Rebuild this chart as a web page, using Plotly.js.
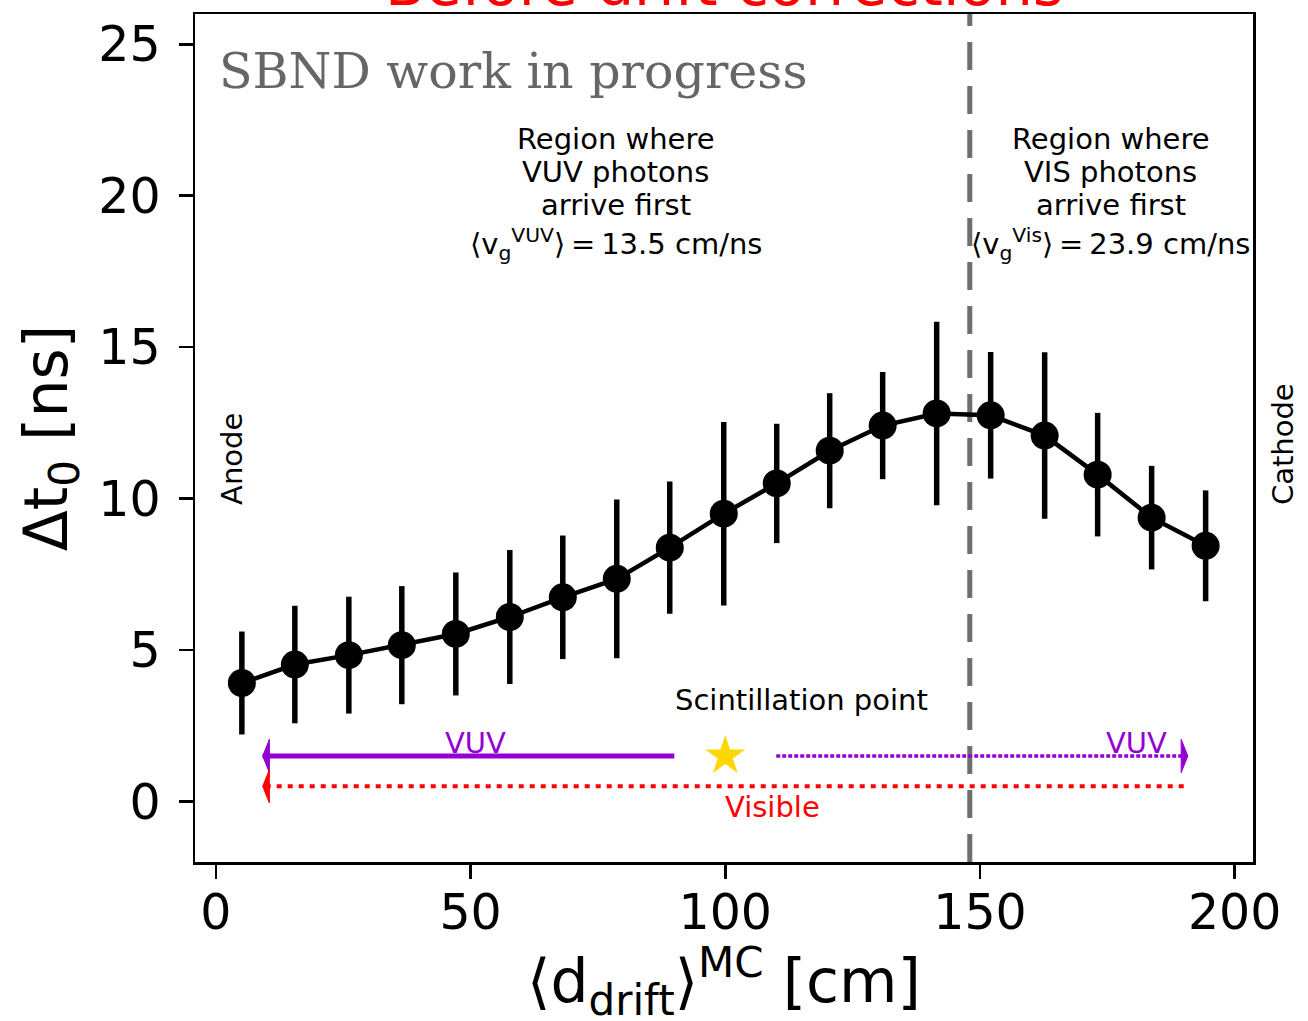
<!DOCTYPE html>
<html>
<head>
<meta charset="utf-8">
<script src="https://cdn.plot.ly/plotly-3.0.1.min.js"></script>
<style>
  html, body { margin: 0; padding: 0; background: #ffffff; }
  #chart { width: 1308px; height: 1021px; }
</style>
</head>
<body>
<div id="chart"></div>
<script>
// ---- data ----
const driftX = [5.1, 15.5, 26.1, 36.5, 47.1, 57.7, 68.1, 78.7, 89.1, 99.7, 110.1, 120.5, 130.9, 141.5, 152.1, 162.7, 173.1, 183.7, 194.3];
const deltaT0 = [3.91, 4.52, 4.83, 5.16, 5.53, 6.09, 6.74, 7.35, 8.38, 9.50, 10.50, 11.58, 12.41, 12.81, 12.75, 12.08, 10.79, 9.37, 8.44];
const deltaT0Err = [1.70, 1.94, 1.93, 1.95, 2.03, 2.21, 2.04, 2.62, 2.18, 3.03, 1.97, 1.90, 1.77, 3.03, 2.09, 2.75, 2.04, 1.71, 1.83];

const boundaryX = 148;            // region boundary (dashed line)
const vuvDirectX = [90, 9.2];     // VUV arrow towards anode
const vuvDirectY = [1.5, 1.5];
const vuvReflectX = [110, 190.8]; // VUV arrow towards cathode
const vuvReflectY = [1.5, 1.5];
const visibleX = [190, 9.2];      // Visible arrow towards anode
const visibleY = [0.5, 0.5];
const scintX = [100];
const scintY = [1.5];

const xTicks = [0, 50, 100, 150, 200];
const yTicks = [0, 5, 10, 15, 20, 25];

const vuvRegionLines = ['Region where', 'VUV photons', 'arrive first', '⟨v<sub>g</sub><sup>VUV</sup>⟩\u2009=\u200913.5 cm/ns'];
const visRegionLines = ['Region where', 'VIS photons', 'arrive first', '⟨v<sub>g</sub><sup>Vis</sup>⟩\u2009=\u200923.9 cm/ns'];
const regionLineY = [21.86, 20.77, 19.68, 18.42];

const purple = '#9400D3';
const red = '#FF0000';
const FONT = 'DejaVu Sans, Noto Sans, sans-serif';

// arrow head polygon from the end point of an arrow (style constants only)
const HEAD_LEN = 1.3, HEAD_HALF = 0.55;
function head(xs, ys) {
  const n = xs.length;
  const tipX = xs[n - 1], tipY = ys[n - 1];
  const dir = Math.sign(xs[n - 1] - xs[n - 2]);
  const bx = tipX - dir * HEAD_LEN;
  return { x: [tipX, bx, bx, tipX], y: [tipY, tipY + HEAD_HALF, tipY - HEAD_HALF, tipY] };
}

const traces = [];
// vertical boundary
traces.push({
  x: [boundaryX, boundaryX], y: [-2, 26], mode: 'lines', type: 'scatter',
  line: { color: '#6e6e6e', width: 5, dash: '28px,16px' }, hoverinfo: 'skip', showlegend: false
});
// data
traces.push({
  x: driftX, y: deltaT0, type: 'scatter', mode: 'lines+markers',
  line: { color: '#000000', width: 4.5 },
  marker: { color: '#000000', size: 28 },
  error_y: { type: 'data', array: deltaT0Err, visible: true, color: '#000000', thickness: 5.5, width: 0 },
  showlegend: false
});
// arrows
traces.push({ x: vuvDirectX, y: vuvDirectY, mode: 'lines', type: 'scatter',
  line: { color: purple, width: 5 }, showlegend: false, hoverinfo: 'skip' });
const h1 = head(vuvDirectX, vuvDirectY);
traces.push({ x: h1.x, y: h1.y, mode: 'lines', fill: 'toself', fillcolor: purple,
  line: { color: purple, width: 1 }, showlegend: false, hoverinfo: 'skip' });

traces.push({ x: vuvReflectX, y: vuvReflectY, mode: 'lines', type: 'scatter',
  line: { color: purple, width: 3.5, dash: '4px,2px' }, showlegend: false, hoverinfo: 'skip' });
const h2 = head(vuvReflectX, vuvReflectY);
traces.push({ x: h2.x, y: h2.y, mode: 'lines', fill: 'toself', fillcolor: purple,
  line: { color: purple, width: 1 }, showlegend: false, hoverinfo: 'skip' });

traces.push({ x: visibleX, y: visibleY, mode: 'lines', type: 'scatter',
  line: { color: red, width: 4, dash: '5px,6px' }, showlegend: false, hoverinfo: 'skip' });
const h3 = head(visibleX, visibleY);
traces.push({ x: h3.x, y: h3.y, mode: 'lines', fill: 'toself', fillcolor: red,
  line: { color: red, width: 1 }, showlegend: false, hoverinfo: 'skip' });

// scintillation star
traces.push({ x: scintX, y: scintY, mode: 'markers', type: 'scatter',
  marker: { symbol: 'star', size: 30, color: '#FFD700', line: { width: 0 } },
  showlegend: false, hoverinfo: 'skip' });

function ann(text, x, y, opts) {
  return Object.assign({
    text: text, x: x, y: y, xref: 'x', yref: 'y', showarrow: false,
    xanchor: 'center', yanchor: 'middle',
    font: { family: FONT, size: 29, color: '#000000' }, borderpad: 0
  }, opts || {});
}

const annotations = [
  ann('SBND work in progress', 0.4, 24.1, { xanchor: 'left',
    font: { family: 'DejaVu Serif, Liberation Serif, serif', size: 49, color: '#666666' } }),
  ann('Anode', 3.3, 11.3, { textangle: -90 }),
  ann('Cathode', 1.0284, 11.8, { xref: 'paper', textangle: -90 }),
  ann('Scintillation point', 115, 3.34),
  ann('VUV', 51, 1.92, { font: { family: FONT, size: 29, color: purple } }),
  ann('VUV', 180.8, 1.92, { font: { family: FONT, size: 29, color: purple } }),
  ann('Visible', 109.3, -0.17, { font: { family: FONT, size: 29, color: red } }),
  { text: 'Before drift corrections', xref: 'paper', yref: 'paper', x: 0.5, y: 1, xanchor: 'center', yanchor: 'bottom',
    yshift: -6, showarrow: false, borderpad: 0, font: { family: FONT, size: 59, color: red } },
  // x-axis title
  { text: '⟨d<sub>drift</sub>⟩<sup>MC</sup> [cm]', xref: 'paper', yref: 'paper', x: 0.5, y: 0,
    xanchor: 'center', yanchor: 'middle', yshift: -119, showarrow: false, borderpad: 0,
    font: { family: FONT, size: 60, color: '#000' } }
];
vuvRegionLines.forEach((t, i) => annotations.push(ann(t, 78.5, regionLineY[i])));
visRegionLines.forEach((t, i) => annotations.push(ann(t, 175.7, regionLineY[i])));

const layout = {
  width: 1308, height: 1021,
  margin: { l: 195, r: 55, t: 14, b: 159 },
  paper_bgcolor: '#ffffff', plot_bgcolor: '#ffffff',
  showlegend: false,
  font: { family: FONT, color: '#000000' },
  xaxis: {
    range: [-4.1, 203.6], tickvals: xTicks, ticktext: xTicks.map(String),
    showgrid: false, zeroline: false, showline: true, mirror: true, linecolor: '#000', linewidth: 2.5,
    ticks: 'outside', ticklen: 14, tickwidth: 2.5, tickcolor: '#000',
    tickfont: { family: FONT, size: 49, color: '#000' }, ticklabelstandoff: -8
  },
  yaxis: {
    range: [-2, 26], tickvals: yTicks, ticktext: yTicks.map(String),
    showgrid: false, zeroline: false, showline: true, mirror: true, linecolor: '#000', linewidth: 2.5,
    ticks: 'outside', ticklen: 14, tickwidth: 2.5, tickcolor: '#000',
    tickfont: { family: FONT, size: 49, color: '#000' }, ticklabelstandoff: 8,
    title: { text: 'Δt<sub>0</sub> [ns]', font: { family: FONT, size: 60, color: '#000' }, standoff: 12 }
  },
  annotations: annotations
};

Plotly.newPlot('chart', traces, layout, { staticPlot: true, displayModeBar: false });
</script>
</body>
</html>
